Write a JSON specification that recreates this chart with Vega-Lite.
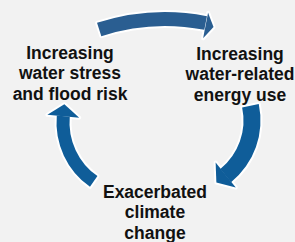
{
  "$schema": "https://vega.github.io/schema/vega-lite/v6.json",
  "width": 295,
  "height": 242,
  "autosize": {"type": "fit", "contains": "padding"},
  "padding": 0,
  "background": "#f2f2f2",
  "config": {"view": {"stroke": null}},
  "datasets": {
    "arcs": [
      {"name": "top", "cx": 165, "cy": 235, "r0": 206, "r1": 220, "t0": -18, "t1": 11},
      {"name": "right", "cx": 181, "cy": 122, "r0": 62.5, "r1": 79.5, "t0": 78, "t1": 141},
      {"name": "left", "cx": 135, "cy": 124, "r0": 65.5, "r1": 78.5, "t0": 215, "t1": 275}
    ],
    "heads": [
      {"name": "right", "hx": 225.7, "hy": 177.2, "a": 231},
      {"name": "left", "hx": 63.3, "hy": 117.7, "a": 5}
    ],
    "smallheads": [
      {"name": "top", "hx": 205.6, "hy": 25.9, "a": 101}
    ],
    "labels": [
      {"lx": 70, "ly": 59.5, "label": "Increasing\nwater stress\nand flood risk"},
      {"lx": 240, "ly": 60.5, "label": "Increasing\nwater-related\nenergy use"},
      {"lx": 155, "ly": 200, "label": "Exacerbated\nclimate\nchange"}
    ]
  },
  "layer": [
    {
      "data": {"name": "arcs"},
      "mark": {"type": "arc", "fill": "white", "stroke": "white", "strokeWidth": 4, "strokeJoin": "round"},
      "encoding": {
        "x": {"field": "cx", "type": "quantitative", "scale": {"domain": [0, 295], "nice": false, "zero": false}, "axis": null},
        "y": {"field": "cy", "type": "quantitative", "scale": {"domain": [0, 242], "nice": false, "zero": false, "reverse": true}, "axis": null},
        "theta": {"field": "t0", "type": "quantitative", "stack": null, "scale": {"domain": [0, 360], "range": [0, 6.283185307179586]}},
        "theta2": {"field": "t1"},
        "radius": {"field": "r0", "type": "quantitative", "scale": {"type": "linear", "domain": [0, 300], "range": [0, 300], "zero": true}},
        "radius2": {"field": "r1"}
      }
    },
    {
      "data": {"name": "heads"},
      "mark": {"type": "point", "shape": "M-1,0L1,0L0,-0.75Z", "size": 1024, "filled": true, "fill": "white", "stroke": "white", "strokeWidth": 4, "strokeJoin": "round", "opacity": 1},
      "encoding": {
        "x": {"field": "hx", "type": "quantitative", "axis": null},
        "y": {"field": "hy", "type": "quantitative", "axis": null},
        "angle": {"field": "a", "type": "quantitative", "scale": {"domain": [0, 360], "range": [0, 360]}}
      }
    },
    {
      "data": {"name": "smallheads"},
      "mark": {"type": "point", "shape": "M-1,0L1,0L0,-0.62Z", "size": 676, "filled": true, "fill": "white", "stroke": "white", "strokeWidth": 4, "strokeJoin": "round", "opacity": 1},
      "encoding": {
        "x": {"field": "hx", "type": "quantitative", "axis": null},
        "y": {"field": "hy", "type": "quantitative", "axis": null},
        "angle": {"field": "a", "type": "quantitative", "scale": {"domain": [0, 360], "range": [0, 360]}}
      }
    },
    {
      "data": {"name": "arcs"},
      "mark": {"type": "arc"},
      "encoding": {
        "x": {"field": "cx", "type": "quantitative", "axis": null},
        "y": {"field": "cy", "type": "quantitative", "axis": null},
        "theta": {"field": "t0", "type": "quantitative", "stack": null},
        "theta2": {"field": "t1"},
        "radius": {"field": "r0", "type": "quantitative"},
        "radius2": {"field": "r1"},
        "color": {"field": "name", "type": "nominal", "scale": {"domain": ["top", "right", "left"], "range": ["#2a5e91", "#0f5d99", "#0f5d99"]}, "legend": null}
      }
    },
    {
      "data": {"name": "heads"},
      "mark": {"type": "point", "shape": "M-1,0L1,0L0,-0.75Z", "size": 1024, "filled": true, "strokeWidth": 0, "opacity": 1},
      "encoding": {
        "x": {"field": "hx", "type": "quantitative", "axis": null},
        "y": {"field": "hy", "type": "quantitative", "axis": null},
        "angle": {"field": "a", "type": "quantitative"},
        "color": {"field": "name", "type": "nominal", "legend": null}
      }
    },
    {
      "data": {"name": "smallheads"},
      "mark": {"type": "point", "shape": "M-1,0L1,0L0,-0.62Z", "size": 676, "filled": true, "strokeWidth": 0, "opacity": 1},
      "encoding": {
        "x": {"field": "hx", "type": "quantitative", "axis": null},
        "y": {"field": "hy", "type": "quantitative", "axis": null},
        "angle": {"field": "a", "type": "quantitative"},
        "color": {"field": "name", "type": "nominal", "legend": null}
      }
    },
    {
      "data": {"name": "labels"},
      "mark": {"type": "text", "font": "Liberation Sans", "fontWeight": "bold", "fontSize": 17.5, "lineHeight": 20.5, "lineBreak": "\n", "align": "center", "baseline": "alphabetic", "color": "#111111"},
      "encoding": {
        "x": {"field": "lx", "type": "quantitative", "axis": null},
        "y": {"field": "ly", "type": "quantitative", "axis": null},
        "text": {"field": "label", "type": "nominal"}
      }
    }
  ]
}
